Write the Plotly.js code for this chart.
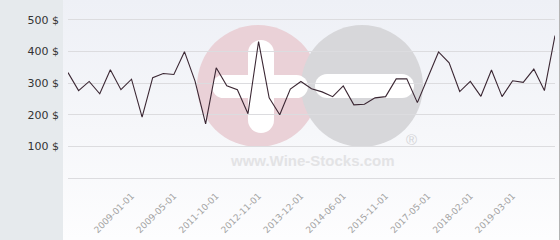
<!DOCTYPE html>
<html>
<head>
<meta charset="utf-8">
<script src="https://cdn.plot.ly/plotly-3.0.1.min.js"></script>
<style>
html,body{margin:0;padding:0;}
#wrap{position:relative;width:560px;height:240px;overflow:hidden;
  background:linear-gradient(to bottom,#eef0f6 0%,#f6f7fa 55%,#fdfdfe 100%);}
#panel{position:absolute;left:0;top:0;width:63px;height:240px;background:#e6eaed;}
#edge{position:absolute;left:559px;top:0;width:1px;height:240px;background:#b4b4b4;}
#chart{position:absolute;left:0;top:0;width:560px;height:240px;}
</style>
</head>
<body>
<div id="wrap"><div id="panel"></div><div id="edge"></div><div id="chart"></div></div>
<script>
// Sale index (position along the axis)
const saleIndex = [];
for (let i = 0; i < 47; i++) saleIndex.push(i);
// Prices in $
const prices = [333,276,305,266,342,279,312,192,317,330,327,399,306,171,348,291,279,203,431,253,200,281,305,282,272,257,291,231,233,253,257,313,313,238,318,398,364,273,305,258,341,257,307,302,344,276,450];
// Labelled ticks
const tickPositions = [6,10,14,18,22,26,30,34,38,42];
const tickLabels = ["2009-01-01","2009-05-01","2011-10-01","2012-11-01","2013-12-01","2014-06-01","2015-11-01","2017-05-01","2018-02-01","2019-03-01"];
const yTickVals = [100,200,300,400,500];
const yTickText = ["100 $","200 $","300 $","400 $","500 $"];

// watermark helpers (pixel -> paper)
const L = 68, T = 10, W = 487, H = 168;
const px = x => (x - L) / W;
const py = y => (T + H - y) / H;
function circ(cx, cy, r, color) {
  return {type:'circle', xref:'paper', yref:'paper', layer:'below',
    x0:px(cx-r), x1:px(cx+r), y0:py(cy+r), y1:py(cy-r),
    fillcolor:color, line:{width:0}};
}
function rect(x0, y0, x1, y1, color) {
  return {type:'rect', xref:'paper', yref:'paper', layer:'below',
    x0:px(x0), x1:px(x1), y0:py(y1), y1:py(y0), fillcolor:color, line:{width:0}};
}
function pill(x0, y0, x1, y1, color) {
  const out = [];
  if (x1 - x0 > y1 - y0) {
    const r = (y1 - y0) / 2;
    out.push(rect(x0 + r, y0, x1 - r, y1, color));
    out.push(circ(x0 + r, y0 + r, r, color));
    out.push(circ(x1 - r, y0 + r, r, color));
  } else {
    const r = (x1 - x0) / 2;
    out.push(rect(x0, y0 + r, x1, y1 - r, color));
    out.push(circ(x0 + r, y0 + r, r, color));
    out.push(circ(x0 + r, y1 - r, r, color));
  }
  return out;
}
const shapes = [
  circ(258, 86, 61, '#ead1d7'),
  circ(362, 86, 61, '#d7d7da'),
  ...pill(212, 75, 308, 98, '#ffffff'),
  ...pill(315, 74, 414, 98, '#ffffff'),
  ...pill(248, 40, 274, 133, '#ffffff')
];

const trace = {
  x: saleIndex, y: prices, type:'scatter', mode:'lines',
  line:{color:'#3b2733', width:1.1}, hoverinfo:'y'
};

const layout = {
  width:560, height:240,
  margin:{l:L, r:560-L-W, t:T, b:240-T-H, pad:0},
  paper_bgcolor:'rgba(0,0,0,0)', plot_bgcolor:'rgba(0,0,0,0)',
  showlegend:false,
  font:{family:'DejaVu Sans, sans-serif'},
  xaxis:{range:[0,46], tickmode:'array', tickvals:tickPositions, ticktext:tickLabels,
    tickangle:-45, showgrid:false, zeroline:false, showline:false, ticks:'',
    tickfont:{size:9, color:'#a3a3a3'}, ticklabelstandoff:10, fixedrange:true},
  yaxis:{range:[0,530.6], tickmode:'array', tickvals:yTickVals, ticktext:yTickText,
    showgrid:true, gridcolor:'#dcdcdf', gridwidth:1, zeroline:true, zerolinecolor:'#dcdcdf',
    zerolinewidth:1, showline:false, ticks:'', ticklabelstandoff:8,
    tickfont:{size:11, color:'#333333'}, fixedrange:true},
  shapes:shapes,
  annotations:[
    {xref:'paper', yref:'paper', x:px(312), y:py(160.5), text:'www.Wine-Stocks.com',
      showarrow:false, font:{family:'Liberation Sans, Arial, sans-serif', size:15, color:'#e3e3e5', weight:'bold'},
      xanchor:'center', yanchor:'middle'},
    {xref:'paper', yref:'paper', x:px(411.5), y:py(139), text:'®',
      showarrow:false, font:{family:'Liberation Sans, Arial, sans-serif', size:15, color:'#d4d4d7'},
      xanchor:'center', yanchor:'middle'}
  ]
};
Plotly.newPlot('chart', [trace], layout, {displayModeBar:false, staticPlot:true});
</script>
</body>
</html>
